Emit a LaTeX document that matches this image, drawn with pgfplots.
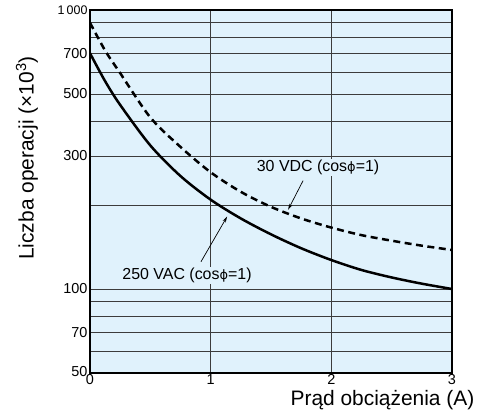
\documentclass[border=0pt]{standalone}
\usepackage{fontspec}
\setmainfont{Liberation Sans}
\newfontfamily\dejavu{DejaVu Sans}
\usepackage{pgfplots}
\pgfplotsset{compat=1.18}
\usetikzlibrary{arrows.meta}
\definecolor{bgblue}{RGB}{224,242,252}
\definecolor{gridc}{RGB}{60,60,60}
\newcommand{\phis}{{\dejavu\fontsize{13}{15}\selectfont ϕ}}
\newcommand{\tl}{\fontsize{14.5}{16}\selectfont}
\begin{document}
\begin{tikzpicture}
\path[use as bounding box] (-90bp,-41bp) rectangle (388bp,373bp);
\begin{axis}[
  at={(0,0)}, anchor=south west,
  scale only axis,
  width=362bp, height=363bp,
  xmin=0, xmax=3, ymin=50, ymax=1000,
  ymode=log,
  axis background/.style={fill=bgblue},
  axis line style={line width=1.2bp, black},
  xtick={0,1,2,3},
  xticklabels={{\tl 0},{\tl 1},{\tl 2},{\tl 3}},
  ytick={50,70,100,300,500,700,1000},
  yticklabels={{\raisebox{4bp}{\tl 50}},{\tl 70},{\tl 100},{\tl 300},{\tl 500},{\tl 700},{\raisebox{-5bp}{\fontsize{12.5}{14}\selectfont 1\,000}}},
  minor ytick={60,80,90,200,400,600,800,900},
  major tick length=0pt, minor tick length=0pt,
  xmajorgrids, ymajorgrids, yminorgrids,
  major grid style={gridc, line width=0.7bp},
  minor grid style={gridc, line width=0.7bp},
  xticklabel style={yshift=2bp},
  yticklabel style={xshift=1bp},
  xlabel={Prąd obciążenia (A)},
  ylabel={Liczba operacji (×10\textsuperscript{3})},
  label style={font=\fontsize{21}{24}\selectfont},
  xlabel style={at={(axis description cs:0.808,-0.076)}, anchor=center},
  ylabel style={at={(axis description cs:-0.174,0.592)}, anchor=center},
  clip=true,
]
\addplot[black, line width=2.5bp, smooth] coordinates {
  (0,700) (0.125,556) (0.25,457) (0.5,327) (0.75,254)
  (1.0,209) (1.25,179) (1.5,157) (1.75,140) (2,127) (2.25,117)
  (2.5,110) (2.75,104.5) (3,100)
};
\addplot[black, line width=2.5bp, smooth, dash pattern=on 7bp off 4.5bp] coordinates {
  (0,900) (0.125,716) (0.25,594) (0.5,412) (0.75,323)
  (1.0,262) (1.25,223) (1.5,197) (1.75,179) (2,166) (2.25,156)
  (2.5,149) (2.75,143) (3,138)
};
\draw[line width=0.7bp, -{Stealth[length=6bp,width=3.5bp]}] (axis cs:1.766,244.6) -- (axis cs:1.642,192.5);
\draw[line width=0.7bp, -{Stealth[length=6bp,width=3.5bp]}] (axis cs:0.92,125.3) -- (axis cs:1.136,181.7);
\node[font=\fontsize{16}{18}\selectfont, fill=bgblue, inner sep=1bp] at (axis cs:1.89,272.3) {30 VDC (cos\phis=1)};
\node[font=\fontsize{16}{18}\selectfont, fill=bgblue, inner sep=1bp] at (axis cs:0.804,111.6) {250 VAC (cos\phis=1)};
\end{axis}
\end{tikzpicture}
\end{document}
